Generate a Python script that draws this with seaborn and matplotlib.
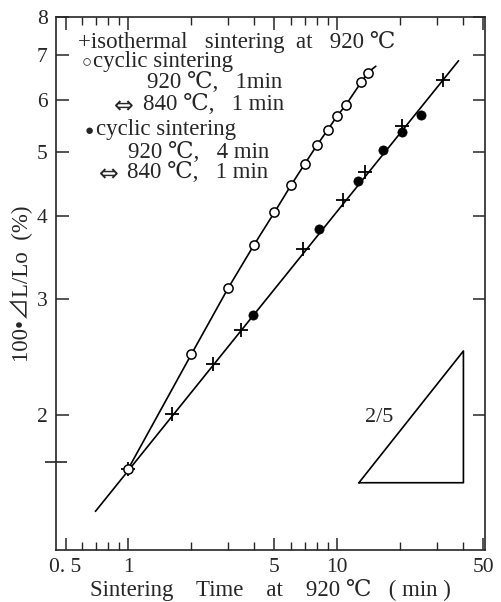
import numpy as np
import pandas as pd
import matplotlib
matplotlib.use("Agg")
import matplotlib.pyplot as plt
import seaborn as sns

# ---------------- data ----------------
iso_time = [1.0, 1.62, 2.53, 3.46, 6.88, 10.6, 13.6, 20.4, 32.1]
iso_shrink = [1.66, 2.01, 2.39, 2.69, 3.57, 4.23, 4.67, 5.47, 6.43]

cyc1_time = [1.0, 2.0, 3.0, 4.0, 5.0, 6.0, 7.0, 8.0, 9.0, 10.0, 11.0, 13.0, 14.0]
cyc1_shrink = [1.66, 2.47, 3.11, 3.62, 4.05, 4.45, 4.80, 5.12, 5.40, 5.67, 5.89, 6.37, 6.59]

cyc4_time = [3.96, 8.14, 12.6, 16.5, 20.4, 25.1]
cyc4_shrink = [2.83, 3.82, 4.52, 5.03, 5.36, 5.69]

# drawn curves
fit_iso_time = [0.695, 38.1]
fit_iso_shrink = [1.43, 6.87]
curve_cyc1_time = cyc1_time + [15.3]
curve_cyc1_shrink = cyc1_shrink + [6.74]

# slope triangle 2/5
tri_time = [12.7, 40.2, 40.2, 12.7]
tri_shrink = [1.58, 1.58, 2.50, 1.58]
tri_label = "2/5"

x_major = [0.5, 1, 5, 10, 50]
x_major_labels = ["0. 5", "1", "5", "10", "50"]
x_minor = [0.6, 0.7, 0.8, 0.9, 2, 3, 4, 6, 7, 8, 9, 20, 30, 40]
y_major = [2, 3, 4, 5, 6, 7, 8]
y_major_labels = ["2", "3", "4", "5", "6", "7", "8"]
y_extra = [1.7]

# ---------------- style ----------------
sns.set_style("ticks")
FAM = ["Liberation Serif", "DejaVu Serif", "Noto Sans CJK JP"]
plt.rcParams["font.family"] = FAM
plt.rcParams["axes.linewidth"] = 1.2

fig = plt.figure(figsize=(5.01, 6.02), dpi=100)
W, H = 501, 602
ax = fig.add_axes([56 / W, 1 - 550 / H, (485 - 56) / W, (550 - 17) / H])
ax.set_xscale("log")
ax.set_yscale("log")

lw = 1.2
kw_line = dict(ax=ax, color="black", lw=lw, sort=False, estimator=None)
sns.lineplot(x=fit_iso_time, y=fit_iso_shrink, **kw_line)
sns.lineplot(x=curve_cyc1_time, y=curve_cyc1_shrink, **kw_line)
sns.lineplot(x=tri_time, y=tri_shrink, **kw_line)

sns.scatterplot(x=iso_time, y=iso_shrink, ax=ax, marker="+", s=95, color="black",
                linewidth=1.3, zorder=4)
sns.scatterplot(x=cyc1_time, y=cyc1_shrink, ax=ax, marker="o", s=44, facecolor="white",
                edgecolor="black", linewidth=1.1, zorder=5)
sns.scatterplot(x=cyc4_time, y=cyc4_shrink, ax=ax, marker="o", s=44, color="black",
                edgecolor="black", linewidth=0.5, zorder=5)

ax.text(15.9, 1.98, tri_label, fontsize=16, ha="center", va="center", family=FAM)

ax.set_xlim(0.45, 51)
ax.set_ylim(1.25, 8)

ax.xaxis.set_major_locator(matplotlib.ticker.FixedLocator(x_major))
ax.xaxis.set_minor_locator(matplotlib.ticker.FixedLocator(x_minor))
ax.set_xticklabels(x_major_labels)
ax.xaxis.set_minor_formatter(matplotlib.ticker.NullFormatter())
ax.yaxis.set_major_locator(matplotlib.ticker.FixedLocator(y_major))
ax.set_yticklabels(y_major_labels)
ax.yaxis.set_minor_locator(matplotlib.ticker.FixedLocator(y_extra))
ax.yaxis.set_minor_formatter(matplotlib.ticker.NullFormatter())

ax.tick_params(axis="both", which="major", direction="in", length=9, width=1.1,
               top=True, right=True, labelsize=15.5, pad=6)
ax.tick_params(axis="x", which="minor", direction="in", length=6, width=1.0, top=True)
ax.tick_params(axis="y", which="minor", direction="inout", length=16, width=1.2,
               left=True, right=False)

ax.set_xlabel("Sintering    Time    at    920 ℃   ( min )", fontsize=16.5, labelpad=1)
ax.set_ylabel("100•⊿L/Lo  (%)", fontsize=16.5, labelpad=3)

# ---------------- legend text block ----------------
LS = 16.5


def ft(px, py, s, size=LS, **kw):
    fig.text(px / W, 1 - py / H, s, fontsize=size, ha="left", va="center",
             family=kw.pop("family", FAM), **kw)


ft(78, 42, "+isothermal   sintering  at   920 ℃")
ft(82, 63, "○", size=12)
ft(93, 62, "cyclic sintering")
ft(147, 83, "920 ℃,   1min")
ft(114, 106, "⇔", size=17, family=["DejaVu Sans"])
ft(143, 105, "840 ℃,   1 min")
ft(85, 131, "●", size=11)
ft(96, 130, "cyclic sintering")
ft(128, 152, "920 ℃,   4 min")
ft(99, 174, "⇔", size=17, family=["DejaVu Sans"])
ft(127, 173, "840 ℃,   1 min")

fig.savefig("out.png", dpi=100, facecolor="white")
